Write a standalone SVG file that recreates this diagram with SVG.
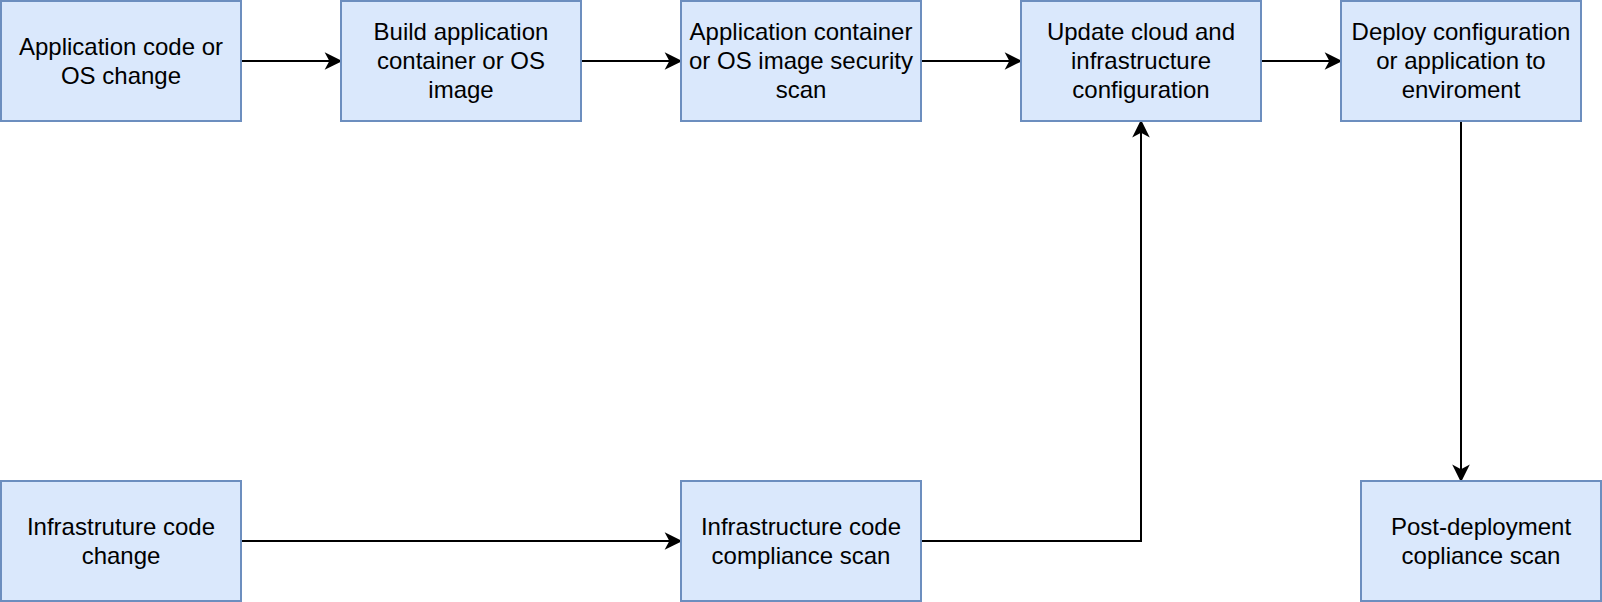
<svg xmlns="http://www.w3.org/2000/svg" width="1602" height="602" viewBox="0 0 1602 602">
  <style>
    .box { fill: #dae8fc; stroke: #6c8ebf; stroke-width: 2; }
    .lbl { font-family: "Liberation Sans", Arial, Helvetica, sans-serif; font-size: 24px; fill: #000000; text-anchor: middle; }
    .edge { fill: none; stroke: #000000; stroke-width: 2; }
  </style>
  <defs>
    <marker id="arrow" viewBox="-17 -10 19 20" refX="-7" refY="0" markerWidth="19" markerHeight="20" markerUnits="userSpaceOnUse" orient="auto">
      <path d="M-1,0 L-14,6.5 L-10.5,0 L-14,-6.5 Z" fill="#000000" stroke="#000000" stroke-width="2" stroke-linejoin="miter" stroke-miterlimit="10"/>
    </marker>
  </defs>
  <rect width="1602" height="602" fill="#ffffff"/>

  <g id="connectors">
    <path class="edge" d="M241,61 L334,61" marker-end="url(#arrow)"/>
    <path class="edge" d="M581,61 L674,61" marker-end="url(#arrow)"/>
    <path class="edge" d="M921,61 L1014,61" marker-end="url(#arrow)"/>
    <path class="edge" d="M1261,61 L1334,61" marker-end="url(#arrow)"/>
    <path class="edge" d="M1461,121 L1461,474" marker-end="url(#arrow)"/>
    <path class="edge" d="M241,541 L674,541" marker-end="url(#arrow)"/>
    <path class="edge" d="M921,541 L1141,541 L1141,128" marker-end="url(#arrow)"/>
  </g>

  <g id="app-change">
    <rect class="box" x="1" y="1" width="240" height="120"/>
    <text class="lbl" x="121" y="55">Application code or</text>
    <text class="lbl" x="121" y="83.8">OS change</text>
  </g>
  <g id="build-image">
    <rect class="box" x="341" y="1" width="240" height="120"/>
    <text class="lbl" x="461" y="40">Build application</text>
    <text class="lbl" x="461" y="68.8">container or OS</text>
    <text class="lbl" x="461" y="97.6">image</text>
  </g>
  <g id="image-scan">
    <rect class="box" x="681" y="1" width="240" height="120"/>
    <text class="lbl" x="801" y="40">Application container</text>
    <text class="lbl" x="801" y="68.8">or OS image security</text>
    <text class="lbl" x="801" y="97.6">scan</text>
  </g>
  <g id="update-config">
    <rect class="box" x="1021" y="1" width="240" height="120"/>
    <text class="lbl" x="1141" y="40">Update cloud and</text>
    <text class="lbl" x="1141" y="68.8">infrastructure</text>
    <text class="lbl" x="1141" y="97.6">configuration</text>
  </g>
  <g id="deploy">
    <rect class="box" x="1341" y="1" width="240" height="120"/>
    <text class="lbl" x="1461" y="40">Deploy configuration</text>
    <text class="lbl" x="1461" y="68.8">or application to</text>
    <text class="lbl" x="1461" y="97.6">enviroment</text>
  </g>
  <g id="infra-change">
    <rect class="box" x="1" y="481" width="240" height="120"/>
    <text class="lbl" x="121" y="535">Infrastruture code</text>
    <text class="lbl" x="121" y="563.8">change</text>
  </g>
  <g id="infra-scan">
    <rect class="box" x="681" y="481" width="240" height="120"/>
    <text class="lbl" x="801" y="535">Infrastructure code</text>
    <text class="lbl" x="801" y="563.8">compliance scan</text>
  </g>
  <g id="post-deploy-scan">
    <rect class="box" x="1361" y="481" width="240" height="120"/>
    <text class="lbl" x="1481" y="535">Post-deployment</text>
    <text class="lbl" x="1481" y="563.8">copliance scan</text>
  </g>
</svg>
